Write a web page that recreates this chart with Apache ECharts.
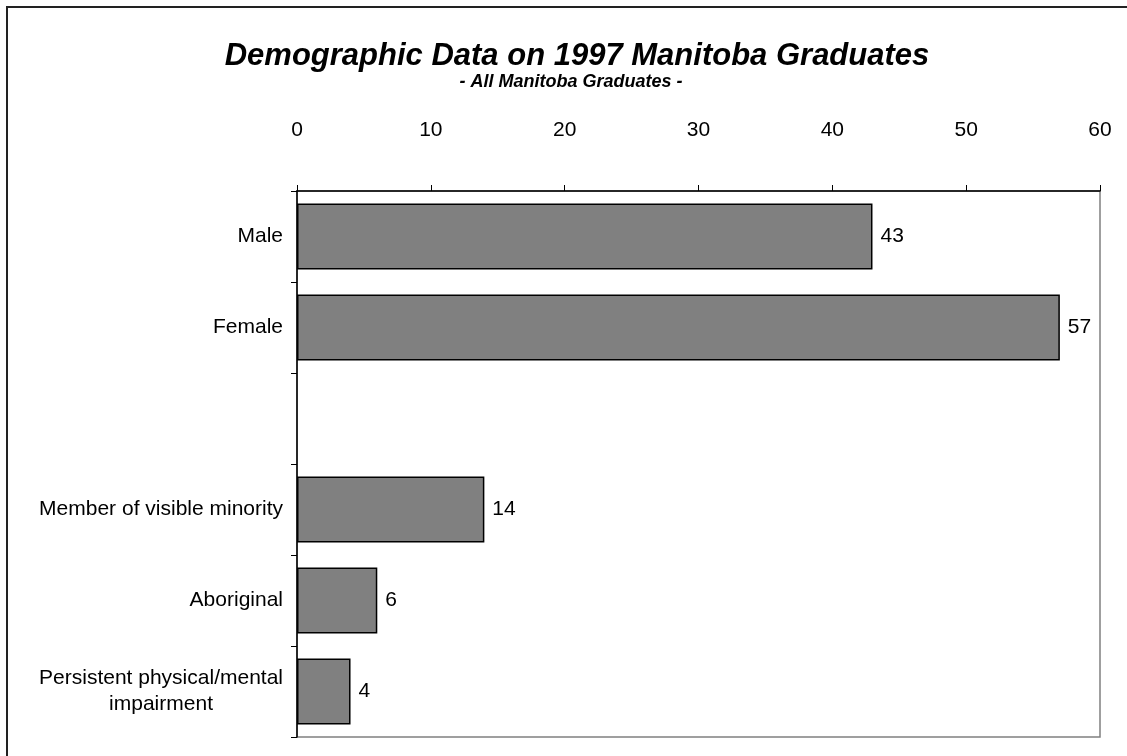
<!DOCTYPE html>
<html>
<head>
<meta charset="utf-8">
<script src="https://cdn.jsdelivr.net/npm/echarts@6/dist/echarts.min.js"></script>
<style>
  html, body { margin: 0; padding: 0; background: #fff; }
  #chart { width: 1127px; height: 756px; }
</style>
</head>
<body>
<div id="chart"></div>
<script>
// categories top to bottom, the empty one is the gap between the two groups
var categories = ['Male', 'Female', '', 'Member of visible minority', 'Aboriginal', 'Persistent physical/mental\nimpairment'];
var percents = [43, 57, null, 14, 6, 4];
var xTicks = [0, 10, 20, 30, 40, 50, 60];

var font = 'Arial, "Liberation Sans", sans-serif';

var chart = echarts.init(document.getElementById('chart'));
chart.setOption({
  animation: false,
  backgroundColor: '#fff',
  title: [{
    text: 'Demographic Data on 1997 Manitoba Graduates',
    left: 572, top: 36, textAlign: 'center',
    textStyle: { fontFamily: font, fontSize: 31, fontWeight: 'bold', fontStyle: 'italic', color: '#000' }
  }, {
    text: '- All Manitoba Graduates -',
    left: 566, top: 68, textAlign: 'center',
    textStyle: { fontFamily: font, fontSize: 18, fontWeight: 'bold', fontStyle: 'italic', color: '#000' }
  }],
  graphic: [{
    type: 'rect',
    shape: { x: 7, y: 7, width: 1130, height: 760 },
    style: { fill: 'none', stroke: '#222', lineWidth: 2 },
    silent: true
  }],
  grid: {
    left: 297, right: 27, top: 191, bottom: 19,
    show: true, borderColor: '#808080', borderWidth: 1.5, backgroundColor: 'transparent'
  },
  xAxis: {
    type: 'value',
    position: 'top',
    min: xTicks[0], max: xTicks[xTicks.length - 1], interval: 10,
    splitLine: { show: false },
    axisLine: { show: true, lineStyle: { color: '#000', width: 1.5 } },
    axisTick: { show: true, length: 6, lineStyle: { color: '#000' } },
    axisLabel: { margin: 50, fontFamily: font, fontSize: 21, color: '#000' }
  },
  yAxis: {
    type: 'category',
    inverse: true,
    data: categories,
    axisLine: { show: true, lineStyle: { color: '#000', width: 1.5 } },
    axisTick: { show: true, length: 6, interval: 0, lineStyle: { color: '#000' } },
    axisLabel: {
      margin: 14, fontFamily: font, fontSize: 21, color: '#000', lineHeight: 26,
      formatter: function (v) {
        return v.split('\n').map(function (s) { return '{c|' + s + '}'; }).join('\n');
      },
      rich: { c: { align: 'center', fontFamily: font, fontSize: 21, color: '#000', lineHeight: 26 } }
    }
  },
  series: [{
    type: 'bar',
    data: percents,
    barWidth: 66,
    itemStyle: { color: '#808080', borderColor: '#000', borderWidth: 1.5 },
    label: {
      show: true, position: 'right', distance: 8,
      fontFamily: font, fontSize: 21, color: '#000'
    }
  }]
});
</script>
</body>
</html>
